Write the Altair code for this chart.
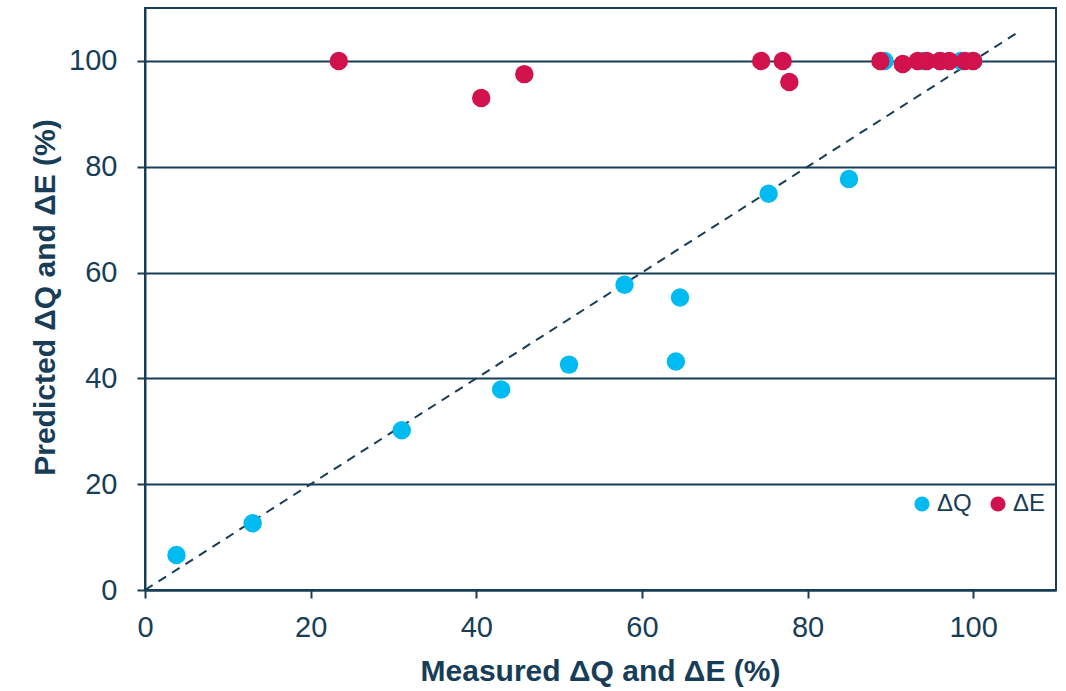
import altair as alt
import pandas as pd

# ΔQ (blue) measured vs predicted
q_measured = [3.8, 13.0, 31.0, 43.0, 51.2, 57.9, 64.1, 64.6, 75.3, 85.0, 89.3, 94.0, 96.0, 98.5, 100.0]
q_predicted = [6.6, 12.6, 30.2, 37.9, 42.6, 57.7, 43.2, 55.3, 74.9, 77.7, 100.0, 100.0, 100.0, 100.0, 100.0]

# ΔE (red) measured vs predicted
e_measured = [23.4, 40.6, 45.8, 74.4, 77.0, 77.8, 88.8, 91.5, 93.3, 94.4, 96.0, 97.1, 99.0, 100.0]
e_predicted = [100.0, 93.0, 97.5, 100.0, 100.0, 96.0, 100.0, 99.4, 100.0, 100.0, 100.0, 100.0, 100.0, 100.0]

series_names = ["ΔQ", "ΔE"]
series_colors = ["#00BBF2", "#D2124C"]

# 1:1 reference line
line_x = [0, 105.5]
line_y = [0, 105.5]

x_ticks = [0, 20, 40, 60, 80, 100]
y_ticks = [0, 20, 40, 60, 80, 100]

ink = "#173D57"
font = "Liberation Sans"

pts = pd.DataFrame({
    "measured": q_measured + e_measured,
    "predicted": q_predicted + e_predicted,
    "series": [series_names[0]] * len(q_measured) + [series_names[1]] * len(e_measured),
    "ord": list(range(len(q_measured) + len(e_measured))),
})
ref = pd.DataFrame({"measured": line_x, "predicted": line_y})

xscale = alt.Scale(domain=[0, 110], nice=False)
yscale = alt.Scale(domain=[0, 110], nice=False)

xaxis = alt.Axis(
    title="Measured ΔQ and ΔE (%)", values=x_ticks, grid=False, labelFlush=False,
    titleX=455, titleY=81, titleBaseline="middle", titleAnchor="middle",
)
yaxis = alt.Axis(
    title="Predicted ΔQ and ΔE (%)", values=y_ticks, grid=True, labelFlush=False,
    titleX=-100, titleY=289, titleBaseline="middle", titleAlign="center", titleAngle=-90,
)

line = alt.Chart(ref).mark_line(color=ink, strokeWidth=2, strokeDash=[9, 7]).encode(
    x=alt.X("measured:Q", scale=xscale, axis=xaxis),
    y=alt.Y("predicted:Q", scale=yscale, axis=yaxis),
)

points = alt.Chart(pts).mark_circle(size=340, opacity=1).encode(
    x=alt.X("measured:Q", scale=xscale, axis=xaxis),
    y=alt.Y("predicted:Q", scale=yscale, axis=yaxis),
    color=alt.Color(
        "series:N",
        scale=alt.Scale(domain=series_names, range=series_colors),
        legend=alt.Legend(
            title=None, orient="none", direction="horizontal",
            legendX=765, legendY=484, symbolSize=230, symbolType="circle",
            labelFontSize=24, labelColor=ink, labelFont=font,
            columnPadding=14, labelOffset=3, symbolStrokeWidth=0,
        ),
    ),
    order=alt.Order("ord:Q"),
)

chart = alt.layer(line, points).properties(
    width=911, height=582,
    autosize=alt.AutoSizeParams(type="none"),
    padding={"left": 145, "top": 8, "right": 10, "bottom": 101},
    background="white",
).configure_view(
    stroke=ink, strokeWidth=2,
).configure_axis(
    domainColor=ink, domainWidth=2,
    tickColor=ink, tickWidth=2, tickSize=8,
    gridColor=ink, gridWidth=2, gridOpacity=1,
    labelColor=ink, labelFont=font, labelFontSize=29,
    titleColor=ink, titleFont=font, titleFontSize=30, titleFontWeight="bold",
).configure_axisY(
    labelPadding=20,
).configure_axisX(
    labelPadding=15,
)

chart.save("out.html", embed_options={"renderer": "svg", "actions": False})
